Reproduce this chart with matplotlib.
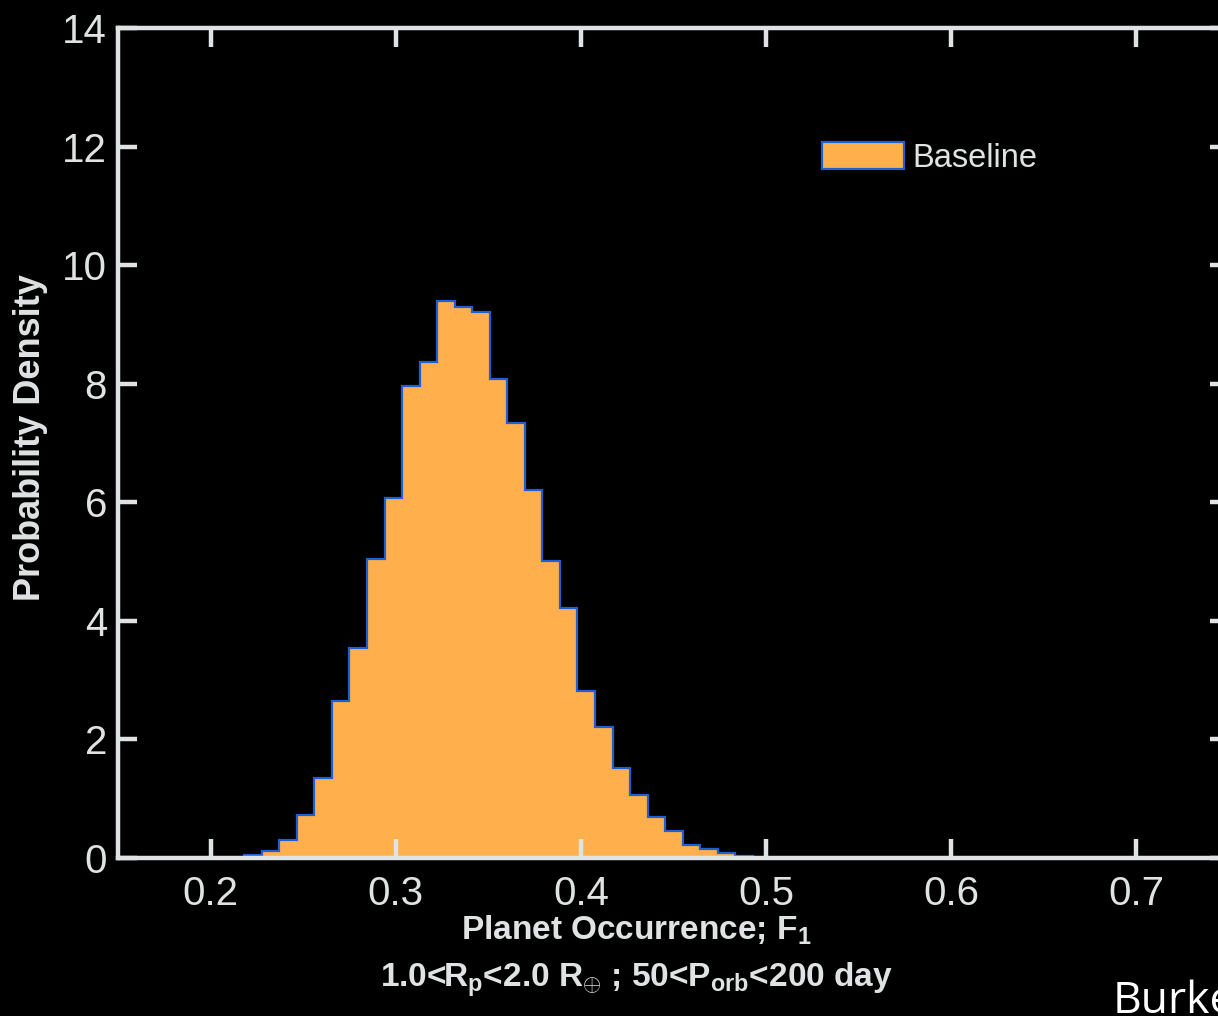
import numpy as np
import matplotlib
matplotlib.use("Agg")
import matplotlib.pyplot as plt

# histogram (probability density per bin)
bin_start = 0.2182
bin_width = 0.00947
density = [0.05, 0.11, 0.30, 0.73, 1.35, 2.64, 3.55, 5.05, 6.08, 7.96,
           8.37, 9.39, 9.30, 9.21, 8.08, 7.33, 6.21, 5.01, 4.22, 2.82,
           2.21, 1.51, 1.06, 0.70, 0.46, 0.22, 0.15, 0.09, 0.03]
edges = bin_start + bin_width * np.arange(len(density) + 1)

x_ticks = [0.2, 0.3, 0.4, 0.5, 0.6, 0.7]
y_ticks = [0, 2, 4, 6, 8, 10, 12, 14]
series_name = "Baseline"

fg = "#e0e3e3"
orange = "#ffb04c"
blue = "#1f5fd6"

plt.rcParams["font.family"] = ["Liberation Sans", "DejaVu Sans"]
plt.rcParams["mathtext.fontset"] = "custom"
plt.rcParams["mathtext.rm"] = "Liberation Sans:bold"
plt.rcParams["mathtext.bf"] = "Liberation Sans:bold"
plt.rcParams["mathtext.it"] = "Liberation Sans:bold"

fig = plt.figure(figsize=(12.18, 10.16), dpi=100, facecolor="black")
ax = fig.add_axes([118 / 1218, 158 / 1016, 1111 / 1218, 830 / 1016])
ax.set_facecolor("black")

ax.stairs(density, edges, fill=True, facecolor=orange, edgecolor=blue,
          linewidth=1.6, label=series_name)

ax.set_xlim(0.15, 0.75)
ax.set_ylim(0, 14)
ax.set_xticks(x_ticks)
ax.set_yticks(y_ticks)
ax.set_xticklabels([f"{t:.1f}" for t in x_ticks])

for s in ax.spines.values():
    s.set_color(fg)
    s.set_linewidth(3.2)
ax.tick_params(direction="in", length=14, width=3.2, color=fg,
               labelcolor=fg, labelsize=29, top=True, right=True)
ax.tick_params(axis="x", pad=12)
ax.tick_params(axis="y", pad=8)

leg = ax.legend(loc="center left", bbox_to_anchor=(822 / 1218, 1 - 158 / 1016),
                bbox_transform=fig.transFigure, frameon=False, fontsize=23.5,
                handlelength=2.5, handleheight=0.9, handletextpad=0.28,
                borderpad=0, borderaxespad=0)
for t in leg.get_texts():
    t.set_color(fg)

fig.text(636 / 1218, 1 - 930 / 1016, r"Planet Occurrence; F$_{\mathbf{1}}$",
         color=fg, fontsize=24, fontweight="bold", ha="center", va="center")
fig.text(636 / 1218, 1 - 980 / 1016,
         r"1.0<R$_{\mathbf{p}}$<2.0 R$_{\oplus}$ ; 50<P$_{\mathbf{orb}}$<200 day",
         color=fg, fontsize=24, fontweight="bold", ha="center", va="center")
fig.text(31 / 1218, 1 - 438 / 1016, "Probability Density", color=fg,
         fontsize=26, fontweight="bold", rotation=90, ha="center", va="center")
fig.text(1113 / 1218, 1 - 1013 / 1016, "Burke", color="white", fontsize=32,
         family=["Open Sans", "DejaVu Sans"], ha="left", va="baseline")

fig.savefig("out.png", dpi=100, facecolor="black")
